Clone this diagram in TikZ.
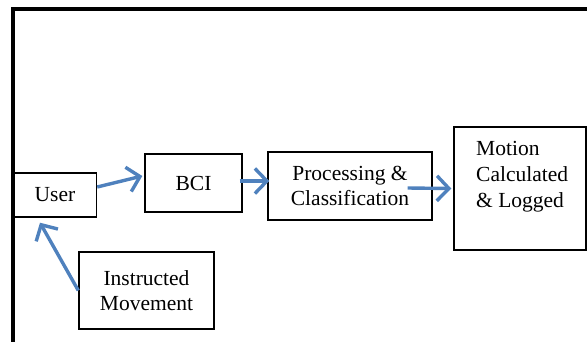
\documentclass[tikz,border=0pt]{standalone}
\usepackage{fontspec}
\setmainfont{Liberation Serif}
\usetikzlibrary{arrows.meta}
\definecolor{arrowblue}{RGB}{79,129,189}
\begin{document}
\begin{tikzpicture}[x=1pt,y=-1pt,
  box/.style={draw=black,line width=1.4pt,inner sep=0pt,align=center,
    font=\fontsize{21.5}{25}\selectfont},
  txt/.style={inner sep=0pt,align=left,font=\fontsize{21.5}{26}\selectfont},
  flow/.style={draw=arrowblue,line width=3.4pt,
    -{Straight Barb[length=12pt,width=25pt,line width=3.4pt]}}]
\useasboundingbox (0,0) rectangle (587,341);
% outer frame
\draw[line width=3.2pt,line cap=rect] (13,341) -- (13,9) -- (590,9);
% boxes
\node[box,minimum width=83pt,minimum height=44pt] (user) at (55,195) {User};
\node[box,minimum width=97pt,minimum height=58pt] (bci) at (193.5,183) {BCI};
\node[box,minimum width=164pt,minimum height=68pt] (proc) at (350,186) {Processing \&\\Classification};
\node[box,minimum width=135pt,minimum height=77pt] (instr) at (146.5,290.5) {Instructed\\Movement};
\node[box,minimum width=132pt,minimum height=123pt] (motion) at (520,188.5) {};
\node[txt,anchor=north west] (motiontext) at (476,141) {Motion\\Calculated\\\& Logged};
% connectors
\draw[flow] ([yshift=8pt]user.east) -- ([xshift=-2pt,yshift=7pt]bci.west);
\draw[flow] ([xshift=-3pt,yshift=2pt]bci.east) -- ([xshift=2pt,yshift=5pt]proc.west);
\draw[flow] ([xshift=-25pt,yshift=-2pt]proc.east) -- ([xshift=-2pt]motion.west);
\draw[flow] (instr.west) -- ([xshift=-15pt,yshift=-5pt]user.south);
\end{tikzpicture}
\end{document}
